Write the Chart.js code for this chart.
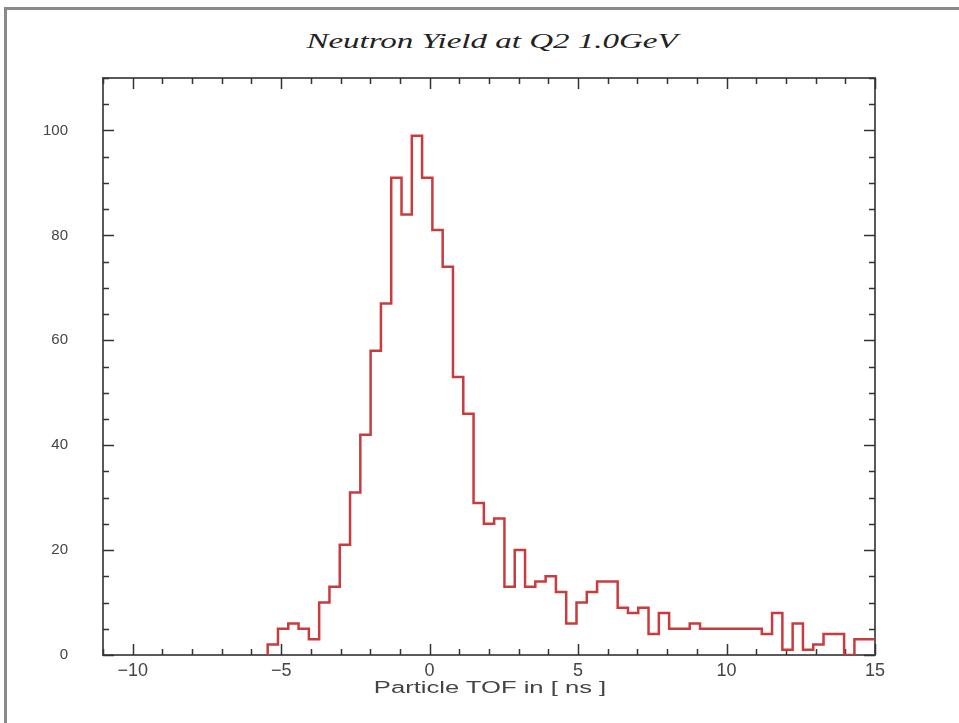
<!DOCTYPE html>
<html>
<head>
<meta charset="utf-8">
<script src="https://cdn.jsdelivr.net/npm/chart.js@4.4.1/dist/chart.umd.min.js"></script>
<style>
    html, body { margin: 0; padding: 0; background: #fff; }
    #wrap { position: relative; width: 959px; height: 723px; overflow: hidden; }
    #marco { position: absolute; left: 4px; top: 7px; width: 1000px; height: 1000px; border: 3px solid #8a8a8a; box-sizing: border-box; }
    #titulo { position: absolute; left: 492px; top: 30px; font: italic 20px "Liberation Serif", "DejaVu Serif", serif; color: #222; white-space: nowrap; transform: translateX(-50%) scaleX(1.65); }
    #tituloX { position: absolute; left: 490px; top: 679px; font: 16px "Liberation Sans", Arial, sans-serif; color: #444; white-space: nowrap; transform: translateX(-50%) scaleX(1.6); }
    #grafico { position: absolute; left: 0; top: 0; width: 959px; height: 723px; }
</style>
</head>
<body>
<div id="wrap">
    <div id="marco"></div>
    <div id="titulo">Neutron Yield at Q2 1.0GeV</div>
    <div id="grafico"><canvas id="cv"></canvas></div>
    <div id="tituloX">Particle TOF in [ ns ]</div>
</div>
<script>
//*******DADOS*******
// histograma: 75 bins entre -11 e 15 ns
var histMin = -11;
var histMax = 15;
var nBins = 75;

// contagens por bin (os 16 primeiros bins estao vazios)
var contagens = [
    0, 0, 0, 0, 0, 0, 0, 0, 0, 0, 0, 0, 0, 0, 0, 0,
    2, 5, 6, 5, 3, 10, 13, 21, 31, 42, 58, 67, 91, 84, 99, 91,
    81, 74, 53, 46, 29, 25, 26, 13, 20, 13, 14, 15, 12, 6, 10, 12,
    14, 14, 9, 8, 9, 4, 8, 5, 5, 6, 5, 5, 5, 5, 5, 5,
    4, 8, 1, 6, 1, 2, 4, 4, 0, 3, 3
];

var ticksX = [-10, -5, 0, 5, 10, 15];
var ticksY = [0, 20, 40, 60, 80, 100];
var yMax = 110;

//*******MONTAGEM DOS PONTOS*******
function MontarPontos() {
    var largura = (histMax - histMin) / nBins;
    var primeiro = contagens.findIndex(function (c) { return c > 0; });
    var pontos = [{ x: histMin + primeiro * largura, y: 0 }];

    for (var i = primeiro; i < nBins; i++) {
        pontos.push({ x: histMin + i * largura, y: contagens[i] });
    }
    pontos.push({ x: histMax, y: contagens[nBins - 1] });

    return pontos;
}

//*******MOLDURA E TICKS INTERNOS*******
var molduraPlugin = {
    id: 'moldura',
    beforeDatasetsDraw: function (chart) {
        var ctx = chart.ctx;
        var a = chart.chartArea;
        var x = chart.scales.x;
        var y = chart.scales.y;

        ctx.save();
        ctx.strokeStyle = '#5a5a5a';
        ctx.lineWidth = 2;
        ctx.strokeRect(a.left, a.top, a.right - a.left, a.bottom - a.top);

        ctx.lineWidth = 1.5;
        ctx.strokeStyle = '#333';
        ctx.beginPath();
        for (var v = histMin; v <= histMax; v++) {
            var px = Math.round(x.getPixelForValue(v)) + 0.5;
            var len = ticksX.indexOf(v) >= 0 ? 11 : 6;
            ctx.moveTo(px, a.bottom); ctx.lineTo(px, a.bottom - len);
            ctx.moveTo(px, a.top); ctx.lineTo(px, a.top + len);
        }
        for (var w = 0; w <= yMax; w += 5) {
            var py = Math.round(y.getPixelForValue(w)) + 0.5;
            var leny = ticksY.indexOf(w) >= 0 ? 11 : 6;
            ctx.moveTo(a.left, py); ctx.lineTo(a.left + leny, py);
            ctx.moveTo(a.right, py); ctx.lineTo(a.right - leny, py);
        }
        ctx.stroke();
        ctx.restore();
    }
};

//*******GRAFICO*******
function CriarGrafico() {
    var familia = '"Liberation Sans", Arial, sans-serif';

    new Chart(document.getElementById('cv'), {
        type: 'scatter',
        data: {
            datasets: [{
                data: MontarPontos(),
                showLine: true,
                stepped: 'before',
                borderColor: 'rgb(200,60,62)',
                borderWidth: 2.5,
                pointRadius: 0,
                fill: false
            }]
        },
        options: {
            responsive: true,
            maintainAspectRatio: false,
            animation: false,
            layout: { padding: { top: 78, right: 84, bottom: 0, left: 0 } },
            plugins: {
                legend: { display: false },
                title: { display: false },
                tooltip: { enabled: false }
            },
            scales: {
                x: {
                    type: 'linear',
                    min: histMin,
                    max: histMax,
                    grid: { display: false, drawTicks: false },
                    border: { display: false },
                    afterBuildTicks: function (s) { s.ticks = ticksX.map(function (v) { return { value: v }; }); },
                    afterFit: function (s) { s.height = 68; },
                    ticks: {
                        padding: 5,
                        color: '#444',
                        font: { family: familia, size: 18 },
                        maxRotation: 0,
                        callback: function (v) { return v < 0 ? '\u2212' + Math.abs(v) : String(v); }
                    }
                },
                y: {
                    min: 0,
                    max: yMax,
                    grid: { display: false, drawTicks: false },
                    border: { display: false },
                    afterBuildTicks: function (s) { s.ticks = ticksY.map(function (v) { return { value: v }; }); },
                    afterFit: function (s) { s.width = 103; },
                    ticks: {
                        padding: 35,
                        color: '#444',
                        font: { family: familia, size: 15 }
                    }
                }
            }
        },
        plugins: [molduraPlugin]
    });
}

CriarGrafico();
</script>
</body>
</html>
